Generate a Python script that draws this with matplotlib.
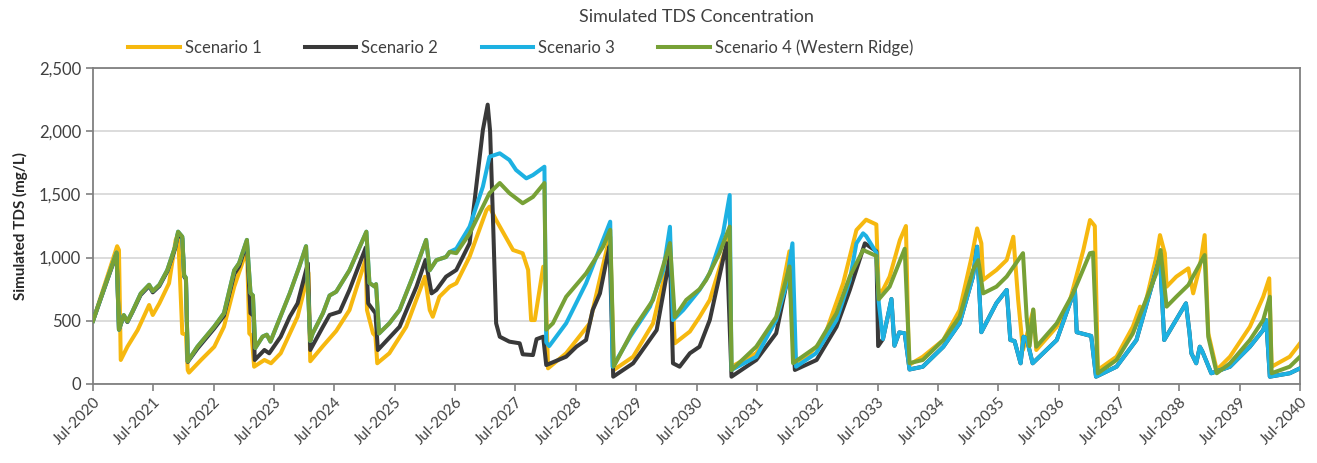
import matplotlib.pyplot as plt
from matplotlib.ticker import FuncFormatter

plt.rcParams['font.family'] = ['Lato', 'DejaVu Sans']

# time in decimal years, TDS in mg/L
# Scenario 1
yr1 = [2020.50, 2020.90, 2020.93, 2020.96, 2021.07, 2021.24, 2021.43, 2021.49, 2021.60, 2021.76,
       2021.87, 2021.91, 2021.98, 2022.04, 2022.07, 2022.09, 2022.29, 2022.51, 2022.67, 2022.84,
       2023.01, 2023.05, 2023.09, 2023.13, 2023.17, 2023.34, 2023.45, 2023.61, 2023.89, 2024.07,
       2024.10, 2024.31, 2024.53, 2024.75, 2025.02, 2025.04, 2025.14, 2025.18, 2025.21, 2025.41,
       2025.69, 2026.00, 2026.08, 2026.13, 2026.24, 2026.41, 2026.52, 2026.74, 2027.02, 2027.07,
       2027.18, 2027.46, 2027.62, 2027.71, 2027.76, 2027.82, 2027.96, 2027.99, 2028.04, 2028.34,
       2028.73, 2029.01, 2029.07, 2029.13, 2029.45, 2029.78, 2030.06, 2030.14, 2030.39, 2030.55,
       2030.72, 2030.94, 2031.05, 2031.08, 2031.49, 2031.82, 2032.04, 2032.15, 2032.60, 2032.93,
       2033.15, 2033.31, 2033.48, 2033.52, 2033.59, 2033.70, 2033.87, 2033.97, 2034.02, 2034.25,
       2034.59, 2034.86, 2035.06, 2035.15, 2035.22, 2035.25, 2035.47, 2035.64, 2035.75, 2035.83,
       2035.91, 2036.08, 2036.13, 2036.47, 2036.69, 2036.91, 2037.02, 2037.10, 2037.15, 2037.46,
       2037.73, 2037.85, 2037.91, 2038.12, 2038.18, 2038.26, 2038.29, 2038.45, 2038.65, 2038.73,
       2038.84, 2038.92, 2038.98, 2039.12, 2039.34, 2039.67, 2039.89, 2039.99, 2040.03, 2040.33,
       2040.50]
tds1 = [500, 1090, 1060, 190, 295, 427, 625, 546, 638, 797,
        1139, 1190, 400, 390, 110, 90, 190, 295, 453, 770,
        1007, 1100, 400, 380, 137, 190, 164, 243, 532, 880,
        180, 300, 420, 585, 990, 585, 400, 380, 164, 243,
        453, 849, 585, 532, 690, 770, 797, 1007, 1376, 1403,
        1297, 1060, 1034, 902, 506, 506, 928, 930, 124, 243,
        480, 1060, 1165, 111, 216, 480, 1034, 322, 415, 530,
        665, 1007, 1165, 137, 243, 506, 1050, 137, 348, 797,
        1218, 1300, 1262, 723, 745, 849, 1139, 1250, 150, 216,
        348, 585, 1007, 1231, 1113, 823, 902, 981, 1165, 665,
        269, 585, 269, 453, 665, 1060, 1297, 1250, 111, 216,
        453, 612, 580, 1007, 1178, 1034, 770, 849, 915, 717,
        928, 1178, 401, 111, 216, 453, 690, 836, 137, 216,
        322]

# Scenario 2 (after mid-2033 it runs on top of Scenario 3)
yr2 = [2020.50, 2020.89, 2020.93, 2021.01, 2021.07, 2021.15, 2021.29, 2021.43, 2021.49, 2021.60,
       2021.73, 2021.86, 2021.91, 2021.98, 2022.01, 2022.04, 2022.07, 2022.23, 2022.51, 2022.67,
       2022.84, 2022.92, 2023.05, 2023.11, 2023.16, 2023.18, 2023.34, 2023.42, 2023.61, 2023.76,
       2023.89, 2024.06, 2024.10, 2024.31, 2024.42, 2024.59, 2024.75, 2025.02, 2025.06, 2025.14,
       2025.18, 2025.22, 2025.58, 2025.86, 2026.01, 2026.11, 2026.19, 2026.35, 2026.52, 2026.74,
       2026.96, 2027.04, 2027.08, 2027.13, 2027.18, 2027.24, 2027.40, 2027.57, 2027.62, 2027.79,
       2027.85, 2027.96, 2028.01, 2028.34, 2028.51, 2028.67, 2028.78, 2028.90, 2029.01, 2029.06,
       2029.12, 2029.45, 2029.84, 2030.06, 2030.11, 2030.22, 2030.39, 2030.55, 2030.72, 2031.00,
       2031.08, 2031.49, 2031.82, 2032.04, 2032.13, 2032.49, 2032.82, 2033.04, 2033.29, 2033.48,
       2033.51]
tds2 = [500, 1030, 430, 540, 490, 565, 705, 775, 725, 775,
        890, 1070, 1190, 1150, 850, 830, 175, 280, 440, 540,
        870, 930, 1120, 560, 540, 190, 269, 243, 374, 532,
        638, 955, 269, 453, 546, 572, 744, 1080, 638, 585,
        560, 269, 453, 770, 981, 717, 744, 849, 902, 1113,
        2009, 2210, 2000, 1271, 480, 374, 335, 322, 235, 229,
        355, 374, 150, 216, 295, 348, 585, 717, 981, 1090,
        58, 164, 427, 1007, 164, 137, 243, 295, 506, 1113,
        58, 190, 401, 902, 111, 190, 453, 744, 1113, 1050,
        300]

# Scenario 4 (Western Ridge)
yr4 = [2020.50, 2020.89, 2020.93, 2021.01, 2021.07, 2021.15, 2021.29, 2021.43, 2021.49, 2021.60,
       2021.73, 2021.86, 2021.91, 2021.98, 2022.01, 2022.04, 2022.07, 2022.23, 2022.51, 2022.67,
       2022.84, 2022.92, 2023.05, 2023.11, 2023.15, 2023.19, 2023.31, 2023.38, 2023.44, 2023.54,
       2023.76, 2023.92, 2024.03, 2024.10, 2024.14, 2024.31, 2024.42, 2024.53, 2024.75, 2025.03,
       2025.08, 2025.17, 2025.19, 2025.24, 2025.41, 2025.58, 2025.80, 2026.02, 2026.08, 2026.19,
       2026.35, 2026.41, 2026.52, 2026.74, 2027.07, 2027.24, 2027.40, 2027.62, 2027.79, 2027.98,
       2028.01, 2028.12, 2028.34, 2028.67, 2028.95, 2029.07, 2029.13, 2029.45, 2029.78, 2030.06,
       2030.14, 2030.33, 2030.55, 2030.66, 2030.88, 2031.05, 2031.08, 2031.49, 2031.82, 2032.04,
       2032.10, 2032.49, 2032.82, 2033.04, 2033.26, 2033.48, 2033.52, 2033.70, 2033.95, 2034.03,
       2034.25, 2034.59, 2034.86, 2035.08, 2035.17, 2035.25, 2035.47, 2035.64, 2035.91, 2035.97,
       2036.02, 2036.08, 2036.13, 2036.47, 2036.74, 2037.02, 2037.07, 2037.15, 2037.46, 2037.73,
       2038.12, 2038.19, 2038.29, 2038.45, 2038.65, 2038.92, 2038.98, 2039.12, 2039.34, 2039.67,
       2039.89, 2040.00, 2040.03, 2040.33, 2040.50]
tds4 = [500, 1040, 430, 545, 495, 570, 715, 785, 735, 785,
        900, 1085, 1205, 1165, 860, 840, 180, 295, 455, 560,
        900, 955, 1140, 720, 700, 285, 375, 390, 335, 455,
        717, 930, 1090, 340, 400, 560, 700, 730, 900, 1205,
        800, 770, 790, 400, 480, 585, 850, 1140, 900, 980,
        1005, 1045, 1035, 1190, 1510, 1590, 1510, 1430, 1480, 1590,
        430, 480, 690, 875, 1085, 1220, 140, 430, 665, 1115,
        530, 665, 750, 823, 1035, 1245, 110, 295, 530, 930,
        165, 295, 560, 850, 1060, 1013, 670, 770, 1070, 165,
        190, 348, 532, 900, 980, 717, 770, 850, 1035, 530,
        300, 590, 295, 480, 717, 1035, 1040, 85, 190, 400,
        876, 1060, 612, 690, 783, 1020, 374, 85, 164, 348,
        506, 690, 85, 137, 216]

# Scenario 3: same as Scenario 4 until spring 2026, then its own path
yr3_tail = [2026.52, 2026.74, 2026.96, 2027.07, 2027.24, 2027.40, 2027.51, 2027.68, 2027.79, 2027.98,
            2028.01, 2028.06, 2028.34, 2028.67, 2028.95, 2029.07, 2029.11, 2029.40, 2029.73, 2029.95,
            2030.06, 2030.11, 2030.28, 2030.55, 2030.72, 2030.94, 2031.05, 2031.08, 2031.49, 2031.82,
            2031.98, 2032.09, 2032.15, 2032.48, 2032.82, 2033.04, 2033.15, 2033.26, 2033.31, 2033.48,
            2033.52, 2033.59, 2033.73, 2033.78, 2033.86, 2033.95, 2034.03, 2034.25, 2034.59, 2034.86,
            2035.08, 2035.15, 2035.22, 2035.47, 2035.64, 2035.70, 2035.77, 2035.87, 2035.92, 2035.97,
            2036.07, 2036.47, 2036.77, 2036.80, 2037.04, 2037.12, 2037.46, 2037.79, 2038.18, 2038.25,
            2038.61, 2038.67, 2038.70, 2038.78, 2038.84, 2038.88, 2039.03, 2039.34, 2039.67, 2039.89,
            2039.94, 2040.00, 2040.33, 2040.50]
tds3_tail = [1070, 1244, 1561, 1798, 1825, 1772, 1693, 1627, 1653, 1719,
             330, 300, 480, 797, 1139, 1284, 137, 374, 612, 902,
             1244, 506, 585, 744, 876, 1192, 1495, 111, 216, 506,
             770, 1113, 137, 243, 506, 823, 1113, 1192, 1171, 1039,
             645, 356, 672, 303, 408, 401, 115, 137, 295, 480,
             849, 1086, 410, 640, 744, 348, 340, 164, 374, 360,
             164, 348, 750, 410, 380, 58, 137, 348, 1007, 348,
             638, 401, 243, 164, 295, 260, 85, 137, 295, 427,
             506, 58, 85, 124]

yr3 = [y for y in yr4 if y <= 2026.41] + yr3_tail
tds3 = [v for y, v in zip(yr4, tds4) if y <= 2026.41] + tds3_tail
yr2 = yr2 + [y for y in yr3_tail if y > 2033.55]
tds2 = tds2 + [v for y, v in zip(yr3_tail, tds3_tail) if y > 2033.55]

years = list(range(2020, 2041))
tick_labels = ['Jul-%d' % y for y in years]

names = ['Scenario 1', 'Scenario 2', 'Scenario 3', 'Scenario 4 (Western Ridge)']
colors = ['#F6B80F', '#393939', '#1DB1E2', '#77A136']

fig = plt.figure(figsize=(13.17, 4.63), dpi=100)
ax = fig.add_axes([93 / 1317, 1 - 384 / 463, (1300 - 93) / 1317, (384 - 68) / 463])

lines = []
for x, y, c, n, z in zip([yr1, yr2, yr3, yr4], [tds1, tds2, tds3, tds4], colors, names, [2, 3, 4, 5]):
    ln, = ax.plot(x, y, color=c, lw=2.9, label=n, zorder=z, solid_joinstyle='round')
    lines.append(ln)

ax.set_xlim(2020.5, 2040.5)
ax.set_ylim(0, 2500)
ax.set_xticks([y + 0.5 for y in years])
ax.set_xticklabels(tick_labels, rotation=45, ha='right', rotation_mode='anchor', fontsize=11, color='#404040')
ax.set_yticks(range(0, 2501, 500))
ax.yaxis.set_major_formatter(FuncFormatter(lambda v, p: '{:,.0f}'.format(v)))
ax.tick_params(axis='y', labelsize=12, colors='#404040', length=5, width=1.2, direction='out')
ax.tick_params(axis='x', length=5, width=1.2, color='#808080', direction='out', pad=3)
ax.tick_params(axis='y', color='#808080')

ax.grid(axis='y', color='#D9D9D9', lw=1.3, zorder=0)
ax.set_axisbelow(True)
for s in ax.spines.values():
    s.set_color('#808080')
    s.set_linewidth(1.3)

ax.set_ylabel('Simulated TDS (mg/L)', fontsize=11, fontweight='bold', color='#262626', labelpad=8)

fig.text(0.529, 1 - 17 / 463, 'Simulated TDS Concentration', ha='center', va='center',
         fontsize=13, color='#404040')
fig.legend(handles=lines, loc='center left', bbox_to_anchor=(128 / 1317, 1 - 48 / 463), ncol=4,
           frameon=False, fontsize=12, handlelength=3.1, handletextpad=0.3, columnspacing=2.6,
           borderpad=0, borderaxespad=0, labelcolor='#404040')

fig.savefig('out.png', dpi=100)
